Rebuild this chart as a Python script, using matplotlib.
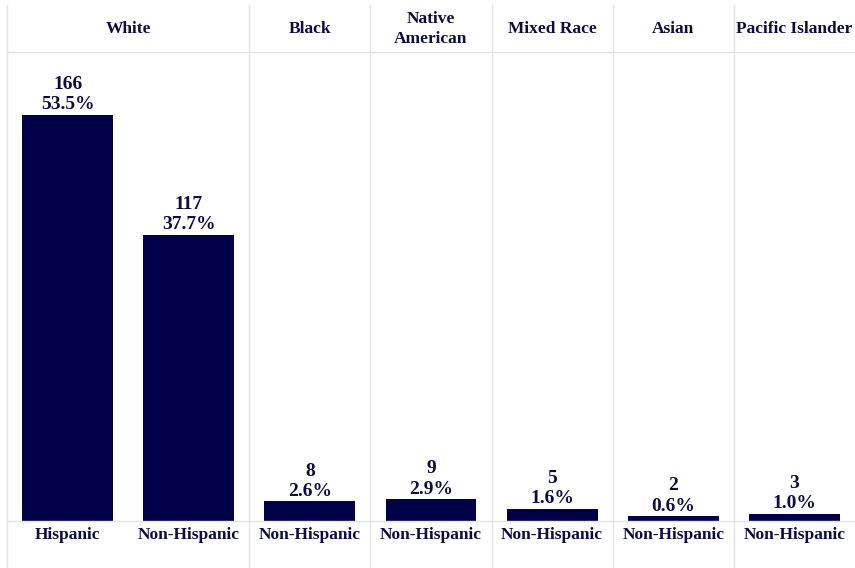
import matplotlib.pyplot as plt
from matplotlib.lines import Line2D

# ── Data ──────────────────────────────────────────────────────────────────────
races = ['White', 'White', 'Black', 'Native\nAmerican', 'Mixed Race', 'Asian', 'Pacific Islander']
ethnicity = ['Hispanic', 'Non-Hispanic', 'Non-Hispanic', 'Non-Hispanic',
             'Non-Hispanic', 'Non-Hispanic', 'Non-Hispanic']
counts = [166, 117, 8, 9, 5, 2, 3]
pcts = ['53.5%', '37.7%', '2.6%', '2.9%', '1.6%', '0.6%', '1.0%']

NAVY = '#000048'
TEXT = '#0b0b45'
GRID = '#e3e3e3'

plt.rcParams['font.family'] = ['Liberation Serif', 'DejaVu Serif']
plt.rcParams['font.weight'] = 'bold'

W, H = 855, 568
fig = plt.figure(figsize=(W / 100, H / 100), dpi=100)

x0, x1 = 7, 855
y_top, y_base = 52, 521
ax = fig.add_axes([x0 / W, 1 - y_base / H, (x1 - x0) / W, (y_base - y_top) / H])

pos = list(range(len(counts)))
ax.bar(pos, counts, width=0.75, color=NAVY)
ax.set_xlim(-0.5, len(counts) - 0.5)
ax.set_ylim(0, 191.7)
ax.axis('off')

for x, c, p in zip(pos, counts, pcts):
    ax.annotate(f'{c}\n{p}', (x, c), xytext=(0, 1), textcoords='offset points',
                ha='center', va='bottom', fontsize=14, color=TEXT,
                linespacing=1.25, fontweight='bold')
    ax.annotate(ethnicity[x], (x, 0), xytext=(0, -4.5), textcoords='offset points',
                ha='center', va='top', fontsize=12.5, color=TEXT, fontweight='bold')

# ── Grid lines / panes ────────────────────────────────────────────────────────
def fx(px):
    return px / W

def fy(py):
    return 1 - py / H

slot = (x1 - x0) / len(counts)
seps = [x0] + [x0 + slot * i for i in (2, 3, 4, 5, 6)]
for sx in seps:
    fig.add_artist(Line2D([fx(sx), fx(sx)], [fy(5), fy(568)], color=GRID, lw=1))
fig.add_artist(Line2D([fx(x0), 1], [fy(y_top), fy(y_top)], color=GRID, lw=1))
fig.add_artist(Line2D([fx(x0), 1], [fy(y_base), fy(y_base)], color=GRID, lw=1))

# ── Headers ───────────────────────────────────────────────────────────────────
headers = []
for r in races:
    if r not in headers:
        headers.append(r)
for h in headers:
    idx = [i for i, r in enumerate(races) if r == h]
    cx = x0 + slot * (min(idx) + max(idx) + 1) / 2
    fig.text(fx(cx), fy(29), h, ha='center', va='center', fontsize=12.5,
             color=TEXT, fontweight='bold', linespacing=1.4)

fig.savefig('out.png', dpi=100)
